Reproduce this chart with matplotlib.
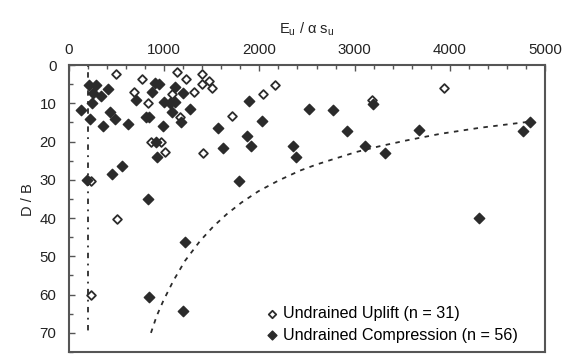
import matplotlib
matplotlib.use("Agg")
import matplotlib.pyplot as plt
from matplotlib.ticker import MultipleLocator

plt.rcParams['font.family'] = ['Liberation Sans', 'DejaVu Sans']

# Data (E_u / alpha s_u, D / B)
uplift_x = [494, 767, 1138, 1229, 1393, 1393, 1474, 1502, 685, 1078, 1311, 825,
            1717, 1162, 858, 962, 1008, 1411, 2164, 2034, 3179, 3935, 228, 508, 228]
uplift_y = [2.4, 3.6, 1.7, 3.7, 2.4, 4.9, 4.2, 6.0, 7.1, 7.5, 7.1, 9.9,
            13.3, 13.6, 20.1, 20.1, 22.7, 23.0, 5.1, 7.6, 9.2, 6.1, 30.3, 40.3, 60.2]

comp_x = [208, 288, 406, 250, 340, 243, 130, 224, 354, 436, 488, 625, 704, 877,
          903, 950, 1113, 1198, 995, 1061, 1113, 1078, 1271, 805, 844, 985, 1178,
          1569, 1618, 1866, 1910, 1890, 553, 910, 921, 2030, 2524, 2777, 2923, 3197,
          2349, 2384, 3109, 3319, 3676, 4842, 4772, 186, 448, 827, 1218, 1789, 844,
          1201, 4307]
comp_y = [5.2, 5.2, 6.2, 7.3, 8.0, 9.8, 11.7, 14.1, 16.0, 12.4, 14.2, 15.5, 9.2, 7.1,
          4.7, 4.9, 5.7, 7.3, 9.6, 10.0, 9.7, 12.3, 11.5, 13.5, 13.7, 15.9, 14.9,
          16.4, 21.8, 18.6, 21.1, 9.3, 26.4, 20.1, 24.0, 14.7, 11.5, 11.8, 17.2, 10.3,
          21.2, 24.0, 21.2, 22.9, 17.0, 14.8, 17.2, 30.1, 28.5, 35.1, 46.2, 30.4, 60.5,
          64.3, 40.0]

# dashed trend curve
curve_x = [861, 921, 991, 1096, 1218, 1376, 1516, 1656, 1814, 1989, 2200, 2426,
           2601, 2777, 3022, 3250, 3547, 3897, 4317, 4842]
curve_y = [70, 65.6, 61.6, 56.4, 51.2, 46.0, 42.2, 39.0, 35.9, 33.0, 30.2, 27.6,
           26.0, 24.6, 22.7, 21.3, 19.7, 18.0, 16.4, 14.8]

# vertical dotted line
vline_x = [200, 200]
vline_y = [0, 70]

dark = '#2b2b2b'

fig = plt.figure(figsize=(5.73, 3.56), dpi=100)
ax = fig.add_axes([0.1204, 0.0112, 0.8307, 0.8062])

ax.plot(curve_x, curve_y, color=dark, lw=1.3, ls=(0, (2.5, 3)))
ax.plot(vline_x, vline_y, color=dark, lw=1.3, ls=(0, (1, 3, 3, 3)))

ax.scatter(uplift_x, uplift_y, marker='D', s=20, facecolor='white',
           edgecolor=dark, linewidth=1.3, zorder=3,
           label='Undrained Uplift (n = 31)')
ax.scatter(comp_x, comp_y, marker='D', s=28, color=dark, zorder=3,
           label='Undrained Compression (n = 56)')

ax.set_xlim(0, 5000)
ax.set_ylim(75, 0)

ax.xaxis.tick_top()
ax.xaxis.set_label_position('top')
ax.xaxis.set_major_locator(MultipleLocator(1000))
ax.xaxis.set_minor_locator(MultipleLocator(200))
ax.yaxis.set_major_locator(MultipleLocator(10))
ax.yaxis.set_minor_locator(MultipleLocator(5))
ax.tick_params(axis='both', which='both', direction='in', colors='#555555',
               labelcolor='#222222', labelsize=10.8)
ax.tick_params(axis='both', which='major', length=4, width=1)
ax.tick_params(axis='both', which='minor', length=3, width=1)
ax.tick_params(axis='x', pad=6)
ax.tick_params(axis='y', pad=9)

ax.set_xlabel(r'E$_\mathregular{u}$ / α s$_\mathregular{u}$', fontsize=10.5,
              color='#222222', labelpad=7)
ax.set_ylabel('D / B', fontsize=10.5, color='#222222')
ax.yaxis.set_label_coords(-0.072, 0.53)

for sp in ax.spines.values():
    sp.set_color('#555555')
    sp.set_linewidth(1.5)

ax.legend(loc='lower left', frameon=False, fontsize=11.6, handletextpad=0.2,
          handlelength=1.0, borderaxespad=0.0, labelspacing=0.4,
          markerscale=0.85, bbox_to_anchor=(0.396, 0.01))

fig.savefig('out.png', dpi=100)
